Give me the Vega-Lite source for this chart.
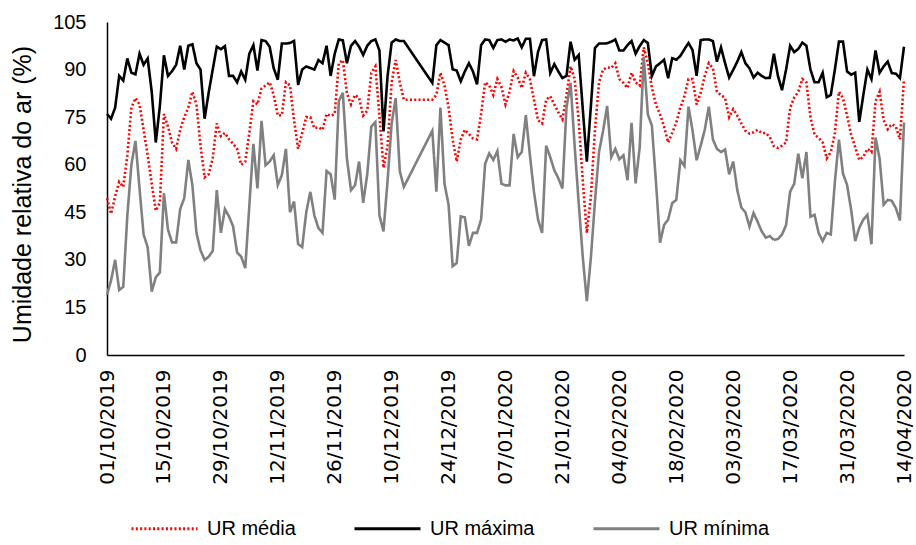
{
  "$schema": "https://vega.github.io/schema/vega-lite/v6.json",
  "width": 797,
  "height": 333,
  "autosize": "none",
  "padding": {"left": 107, "top": 22, "right": 12, "bottom": 190},
  "background": "white",
  "config": {"view": {"stroke": null}, "font": "Liberation Sans"},
  "data": {"values": [
    {"d":"2019-10-01","media":49.4,"maxima":76,"minima":19},
    {"d":"2019-10-02","media":44.5,"maxima":74.5,"minima":23.5},
    {"d":"2019-10-03","media":50,"maxima":78,"minima":30},
    {"d":"2019-10-04","media":54.6,"maxima":88,"minima":20.5},
    {"d":"2019-10-05","media":53,"maxima":86.5,"minima":21.5},
    {"d":"2019-10-06","media":63,"maxima":93.5,"minima":44},
    {"d":"2019-10-07","media":78,"maxima":89,"minima":60},
    {"d":"2019-10-08","media":81,"maxima":88.5,"minima":67.5},
    {"d":"2019-10-09","media":79,"maxima":95,"minima":52.5},
    {"d":"2019-10-10","media":71,"maxima":91.5,"minima":38},
    {"d":"2019-10-11","media":63,"maxima":93.5,"minima":34},
    {"d":"2019-10-12","media":54,"maxima":83,"minima":20},
    {"d":"2019-10-13","media":45.5,"maxima":67,"minima":24.5},
    {"d":"2019-10-14","media":48,"maxima":78.5,"minima":26},
    {"d":"2019-10-15","media":76,"maxima":94.5,"minima":51},
    {"d":"2019-10-16","media":72,"maxima":88,"minima":39.5},
    {"d":"2019-10-17","media":67,"maxima":89.5,"minima":35.5},
    {"d":"2019-10-18","media":65,"maxima":91.5,"minima":35.5},
    {"d":"2019-10-19","media":71,"maxima":97.5,"minima":46},
    {"d":"2019-10-20","media":75,"maxima":90,"minima":49.5},
    {"d":"2019-10-21","media":78,"maxima":97.5,"minima":61.5},
    {"d":"2019-10-22","media":83,"maxima":98,"minima":53.5},
    {"d":"2019-10-23","media":79,"maxima":92,"minima":38.5},
    {"d":"2019-10-24","media":66,"maxima":90,"minima":33},
    {"d":"2019-10-25","media":56,"maxima":74.5,"minima":30},
    {"d":"2019-10-26","media":57,"maxima":82.7,"minima":31},
    {"d":"2019-10-27","media":62,"maxima":90,"minima":32.8},
    {"d":"2019-10-28","media":73,"maxima":97.2,"minima":52},
    {"d":"2019-10-29","media":69,"maxima":96.4,"minima":38.5},
    {"d":"2019-10-30","media":70,"maxima":97.4,"minima":46},
    {"d":"2019-10-31","media":68,"maxima":88,"minima":43.7},
    {"d":"2019-11-01","media":66.6,"maxima":88,"minima":40.6},
    {"d":"2019-11-02","media":65,"maxima":86,"minima":32.3},
    {"d":"2019-11-03","media":60,"maxima":89.4,"minima":31},
    {"d":"2019-11-04","media":61,"maxima":86.8,"minima":27.4},
    {"d":"2019-11-05","media":70,"maxima":95,"minima":47},
    {"d":"2019-11-06","media":80,"maxima":97.7,"minima":66.6},
    {"d":"2019-11-07","media":79,"maxima":89.7,"minima":52.5},
    {"d":"2019-11-08","media":84,"maxima":99.3,"minima":73.8},
    {"d":"2019-11-09","media":85,"maxima":99,"minima":59.8},
    {"d":"2019-11-10","media":86,"maxima":97.2,"minima":61},
    {"d":"2019-11-11","media":82,"maxima":90.4,"minima":63},
    {"d":"2019-11-12","media":75.5,"maxima":86.8,"minima":53.6},
    {"d":"2019-11-13","media":75.6,"maxima":98.2,"minima":56.7},
    {"d":"2019-11-14","media":86,"maxima":98.2,"minima":65},
    {"d":"2019-11-15","media":85,"maxima":98.4,"minima":45},
    {"d":"2019-11-16","media":74,"maxima":99,"minima":48.4},
    {"d":"2019-11-17","media":65,"maxima":85.2,"minima":35},
    {"d":"2019-11-18","media":70,"maxima":90,"minima":34},
    {"d":"2019-11-19","media":75,"maxima":91,"minima":45},
    {"d":"2019-11-20","media":75,"maxima":90.5,"minima":51.5},
    {"d":"2019-11-21","media":71.5,"maxima":90,"minima":44},
    {"d":"2019-11-22","media":71.8,"maxima":93,"minima":40},
    {"d":"2019-11-23","media":71,"maxima":92,"minima":38.5},
    {"d":"2019-11-24","media":76,"maxima":97.5,"minima":58},
    {"d":"2019-11-25","media":75.4,"maxima":88,"minima":57},
    {"d":"2019-11-26","media":76,"maxima":95,"minima":49},
    {"d":"2019-11-27","media":92,"maxima":99.5,"minima":80},
    {"d":"2019-11-28","media":93,"maxima":99.2,"minima":82.7},
    {"d":"2019-11-29","media":82.5,"maxima":92,"minima":62},
    {"d":"2019-11-30","media":79,"maxima":97.5,"minima":52},
    {"d":"2019-12-01","media":82,"maxima":99,"minima":53.5},
    {"d":"2019-12-02","media":81,"maxima":97.2,"minima":61},
    {"d":"2019-12-03","media":75.5,"maxima":94.6,"minima":48},
    {"d":"2019-12-04","media":77,"maxima":97.5,"minima":57},
    {"d":"2019-12-05","media":89,"maxima":99,"minima":72},
    {"d":"2019-12-06","media":91,"maxima":99.5,"minima":73.4},
    {"d":"2019-12-07","media":75.4,"maxima":96,"minima":44},
    {"d":"2019-12-08","media":59,"maxima":70.5,"minima":39},
    {"d":"2019-12-09","media":66,"maxima":88,"minima":55},
    {"d":"2019-12-10","media":86,"maxima":98.5,"minima":73},
    {"d":"2019-12-11","media":93,"maxima":99.5,"minima":81},
    {"d":"2019-12-12","media":86,"maxima":99,"minima":58},
    {"d":"2019-12-13","media":80.5,"maxima":99,"minima":53},
    {"d":"2019-12-20","media":80.5,"maxima":85.8,"minima":70.7},
    {"d":"2019-12-21","media":82,"maxima":97.7,"minima":51.5},
    {"d":"2019-12-22","media":89,"maxima":99.3,"minima":78},
    {"d":"2019-12-23","media":85,"maxima":98.5,"minima":54},
    {"d":"2019-12-24","media":78,"maxima":97.7,"minima":47.4},
    {"d":"2019-12-25","media":68,"maxima":90.1,"minima":28},
    {"d":"2019-12-26","media":61,"maxima":89.7,"minima":29},
    {"d":"2019-12-27","media":68,"maxima":86.3,"minima":43.7},
    {"d":"2019-12-28","media":71,"maxima":89.4,"minima":43.4},
    {"d":"2019-12-29","media":69.7,"maxima":92,"minima":34.4},
    {"d":"2019-12-30","media":68.3,"maxima":89.4,"minima":38.5},
    {"d":"2019-12-31","media":68,"maxima":85.3,"minima":38.5},
    {"d":"2020-01-01","media":76,"maxima":97.7,"minima":42.7},
    {"d":"2020-01-02","media":86,"maxima":99.5,"minima":60.3},
    {"d":"2020-01-03","media":85,"maxima":99.3,"minima":63.6},
    {"d":"2020-01-04","media":82,"maxima":96.8,"minima":61.5},
    {"d":"2020-01-05","media":87,"maxima":99.3,"minima":64.3},
    {"d":"2020-01-06","media":84.5,"maxima":99.5,"minima":54},
    {"d":"2020-01-07","media":79,"maxima":98.8,"minima":53.5},
    {"d":"2020-01-08","media":83,"maxima":99.5,"minima":53.5},
    {"d":"2020-01-09","media":89.5,"maxima":99.2,"minima":69.7},
    {"d":"2020-01-10","media":87.5,"maxima":99.8,"minima":62.4},
    {"d":"2020-01-11","media":84.2,"maxima":97,"minima":64},
    {"d":"2020-01-12","media":89,"maxima":99.7,"minima":75.6},
    {"d":"2020-01-13","media":87,"maxima":99.7,"minima":63},
    {"d":"2020-01-14","media":80.5,"maxima":87.9,"minima":51.5},
    {"d":"2020-01-15","media":74,"maxima":95.6,"minima":42.7},
    {"d":"2020-01-16","media":73,"maxima":99.3,"minima":38.5},
    {"d":"2020-01-17","media":80.5,"maxima":99.5,"minima":66},
    {"d":"2020-01-18","media":81.6,"maxima":88.9,"minima":62.4},
    {"d":"2020-01-19","media":79,"maxima":91.7,"minima":58.3},
    {"d":"2020-01-20","media":76.5,"maxima":89.4,"minima":55.7},
    {"d":"2020-01-21","media":74.3,"maxima":87.3,"minima":52.5},
    {"d":"2020-01-22","media":82,"maxima":88,"minima":78},
    {"d":"2020-01-23","media":91,"maxima":98.8,"minima":85.8},
    {"d":"2020-01-24","media":87,"maxima":93.1,"minima":66},
    {"d":"2020-01-25","media":74,"maxima":94.6,"minima":48},
    {"d":"2020-01-26","media":55,"maxima":77.6,"minima":31},
    {"d":"2020-01-27","media":38.5,"maxima":61,"minima":17},
    {"d":"2020-01-28","media":50,"maxima":78.5,"minima":30.7},
    {"d":"2020-01-29","media":71,"maxima":96.8,"minima":48.4},
    {"d":"2020-01-30","media":86,"maxima":98.2,"minima":64},
    {"d":"2020-01-31","media":90,"maxima":98.2,"minima":70.7},
    {"d":"2020-02-01","media":90.7,"maxima":98.3,"minima":78.5},
    {"d":"2020-02-02","media":90.5,"maxima":98.8,"minima":62.4},
    {"d":"2020-02-03","media":92,"maxima":99.5,"minima":65},
    {"d":"2020-02-04","media":87,"maxima":96,"minima":61.7},
    {"d":"2020-02-05","media":85.8,"maxima":96,"minima":63},
    {"d":"2020-02-06","media":84.2,"maxima":97.7,"minima":55.1},
    {"d":"2020-02-07","media":89,"maxima":99,"minima":73.2},
    {"d":"2020-02-08","media":86,"maxima":95,"minima":54.1},
    {"d":"2020-02-09","media":85,"maxima":97.4,"minima":65.5},
    {"d":"2020-02-10","media":97,"maxima":99.3,"minima":94},
    {"d":"2020-02-11","media":92,"maxima":98.4,"minima":75.9},
    {"d":"2020-02-12","media":84.2,"maxima":88,"minima":72.3},
    {"d":"2020-02-13","media":79,"maxima":91,"minima":54.6},
    {"d":"2020-02-14","media":75.9,"maxima":92,"minima":35.4},
    {"d":"2020-02-15","media":72,"maxima":93.1,"minima":41},
    {"d":"2020-02-16","media":67,"maxima":87.3,"minima":42.7},
    {"d":"2020-02-17","media":70,"maxima":93.6,"minima":47.9},
    {"d":"2020-02-18","media":73.3,"maxima":93.1,"minima":48.9},
    {"d":"2020-02-19","media":78,"maxima":94.3,"minima":61.4},
    {"d":"2020-02-20","media":81.6,"maxima":96.4,"minima":59.6},
    {"d":"2020-02-21","media":87,"maxima":98.4,"minima":78.3},
    {"d":"2020-02-22","media":87,"maxima":96.1,"minima":70.7},
    {"d":"2020-02-23","media":79,"maxima":88,"minima":61.4},
    {"d":"2020-02-24","media":82.7,"maxima":99.3,"minima":66},
    {"d":"2020-02-25","media":88,"maxima":99.5,"minima":71},
    {"d":"2020-02-26","media":92,"maxima":99.5,"minima":78.3},
    {"d":"2020-02-27","media":90.5,"maxima":99,"minima":68},
    {"d":"2020-02-28","media":83,"maxima":92.5,"minima":65},
    {"d":"2020-02-29","media":82,"maxima":97,"minima":64},
    {"d":"2020-03-01","media":81,"maxima":92,"minima":64.8},
    {"d":"2020-03-02","media":75,"maxima":87.5,"minima":57},
    {"d":"2020-03-03","media":77.5,"maxima":89.9,"minima":61},
    {"d":"2020-03-04","media":75.5,"maxima":92.5,"minima":52},
    {"d":"2020-03-05","media":73,"maxima":95.5,"minima":46.5},
    {"d":"2020-03-06","media":70.7,"maxima":92,"minima":45},
    {"d":"2020-03-07","media":69.8,"maxima":90.4,"minima":40.5},
    {"d":"2020-03-08","media":70.2,"maxima":87.5,"minima":44.8},
    {"d":"2020-03-09","media":71,"maxima":89,"minima":42},
    {"d":"2020-03-10","media":70,"maxima":88,"minima":39},
    {"d":"2020-03-11","media":70,"maxima":87.3,"minima":37},
    {"d":"2020-03-12","media":68.7,"maxima":87.4,"minima":37.5},
    {"d":"2020-03-13","media":65.8,"maxima":95,"minima":36.3},
    {"d":"2020-03-14","media":65.3,"maxima":88,"minima":36.6},
    {"d":"2020-03-15","media":66,"maxima":83.5,"minima":38},
    {"d":"2020-03-16","media":67,"maxima":90,"minima":41},
    {"d":"2020-03-17","media":78,"maxima":97.5,"minima":51.5},
    {"d":"2020-03-18","media":81.2,"maxima":95.5,"minima":54},
    {"d":"2020-03-19","media":83,"maxima":96.5,"minima":63.5},
    {"d":"2020-03-20","media":87,"maxima":98.5,"minima":55.7},
    {"d":"2020-03-21","media":86,"maxima":97.5,"minima":64},
    {"d":"2020-03-22","media":75,"maxima":90,"minima":43.6},
    {"d":"2020-03-23","media":69.5,"maxima":86,"minima":44.2},
    {"d":"2020-03-24","media":68.5,"maxima":86,"minima":38.5},
    {"d":"2020-03-25","media":67,"maxima":89,"minima":35.9},
    {"d":"2020-03-26","media":62,"maxima":81.3,"minima":38.5},
    {"d":"2020-03-27","media":64,"maxima":82,"minima":38},
    {"d":"2020-03-28","media":70,"maxima":90,"minima":54.6},
    {"d":"2020-03-29","media":83,"maxima":98.8,"minima":67.9},
    {"d":"2020-03-30","media":81,"maxima":98.8,"minima":57.2},
    {"d":"2020-03-31","media":75.5,"maxima":89.4,"minima":53.6},
    {"d":"2020-04-01","media":69.5,"maxima":88.4,"minima":45.8},
    {"d":"2020-04-02","media":65.5,"maxima":89,"minima":35.9},
    {"d":"2020-04-03","media":61.5,"maxima":73.5,"minima":40.1},
    {"d":"2020-04-04","media":62.5,"maxima":82,"minima":42.7},
    {"d":"2020-04-05","media":65,"maxima":90,"minima":44.2},
    {"d":"2020-04-06","media":64,"maxima":87,"minima":34.9},
    {"d":"2020-04-07","media":80,"maxima":96,"minima":68.6},
    {"d":"2020-04-08","media":83,"maxima":89,"minima":61.9},
    {"d":"2020-04-09","media":74,"maxima":91,"minima":47.4},
    {"d":"2020-04-10","media":71.2,"maxima":92.5,"minima":48.9},
    {"d":"2020-04-11","media":72.8,"maxima":88.9,"minima":48.6},
    {"d":"2020-04-12","media":72,"maxima":88.7,"minima":46.3},
    {"d":"2020-04-13","media":68,"maxima":87.3,"minima":42.4},
    {"d":"2020-04-14","media":87,"maxima":97.2,"minima":73.3}
  ]},
  "transform": [{"fold": ["media", "maxima", "minima"], "as": ["serie", "valor"]}],
  "mark": {"type": "line", "strokeWidth": 2.6},
  "encoding": {
    "x": {
      "field": "d", "type": "temporal",
      "scale": {"type": "utc", "domain": [{"year": 2019, "month": 10, "date": 1, "utc": true}, {"year": 2020, "month": 4, "date": 14, "utc": true}]},
      "axis": {
        "title": null, "grid": false, "ticks": false,
        "format": "%d/%m/%Y", "labelAngle": 270,
        "labelFont": "DejaVu Sans", "labelFontSize": 20, "labelColor": "black",
        "labelPadding": 14, "labelOverlap": false, "labelBound": false, "labelFlush": false,
        "domainColor": "black", "domainWidth": 1.5,
        "values": [
          {"year": 2019, "month": 10, "date": 1, "utc": true},
          {"year": 2019, "month": 10, "date": 15, "utc": true},
          {"year": 2019, "month": 10, "date": 29, "utc": true},
          {"year": 2019, "month": 11, "date": 12, "utc": true},
          {"year": 2019, "month": 11, "date": 26, "utc": true},
          {"year": 2019, "month": 12, "date": 10, "utc": true},
          {"year": 2019, "month": 12, "date": 24, "utc": true},
          {"year": 2020, "month": 1, "date": 7, "utc": true},
          {"year": 2020, "month": 1, "date": 21, "utc": true},
          {"year": 2020, "month": 2, "date": 4, "utc": true},
          {"year": 2020, "month": 2, "date": 18, "utc": true},
          {"year": 2020, "month": 3, "date": 3, "utc": true},
          {"year": 2020, "month": 3, "date": 17, "utc": true},
          {"year": 2020, "month": 3, "date": 31, "utc": true},
          {"year": 2020, "month": 4, "date": 14, "utc": true}
        ]
      }
    },
    "y": {
      "field": "valor", "type": "quantitative",
      "scale": {"domain": [0, 105], "nice": false},
      "axis": {
        "values": [0, 15, 30, 45, 60, 75, 90, 105],
        "grid": false, "ticks": false,
        "labelFont": "Liberation Sans", "labelFontSize": 20, "labelColor": "black", "labelPadding": 21,
        "domainColor": "black", "domainWidth": 1.5,
        "title": "Umidade relativa do ar (%)",
        "titleFont": "Liberation Sans", "titleFontSize": 25, "titleFontWeight": "normal", "titleColor": "black",
        "titleX": -85, "titleY": 172, "titleAngle": 270, "titleAlign": "center", "titleBaseline": "middle"
      }
    },
    "color": {
      "field": "serie", "type": "nominal",
      "scale": {"domain": ["media", "maxima", "minima"], "range": ["#FF0000", "#000000", "#808080"]},
      "legend": {
        "orient": "none", "legendX": 23, "legendY": 472, "direction": "horizontal", "columns": 3,
        "title": null, "symbolType": "stroke", "symbolSize": 4356, "symbolStrokeWidth": 3,
        "labelFont": "Liberation Sans", "labelFontSize": 20, "labelColor": "black", "labelOffset": 8,
        "columnPadding": 52, "padding": 0,
        "labelExpr": "datum.label == 'media' ? 'UR média' : datum.label == 'maxima' ? 'UR máxima' : 'UR mínima'"
      }
    },
    "strokeDash": {
      "field": "serie", "type": "nominal",
      "scale": {"domain": ["media", "maxima", "minima"], "range": [[2, 2.3], [1, 0], [1, 0]]},
      "legend": {
        "orient": "none", "legendX": 23, "legendY": 472, "direction": "horizontal", "columns": 3,
        "title": null, "symbolType": "stroke", "symbolSize": 4356, "symbolStrokeWidth": 3,
        "labelFont": "Liberation Sans", "labelFontSize": 20, "labelColor": "black", "labelOffset": 8,
        "columnPadding": 52, "padding": 0,
        "labelExpr": "datum.label == 'media' ? 'UR média' : datum.label == 'maxima' ? 'UR máxima' : 'UR mínima'"
      }
    }
  }
}
